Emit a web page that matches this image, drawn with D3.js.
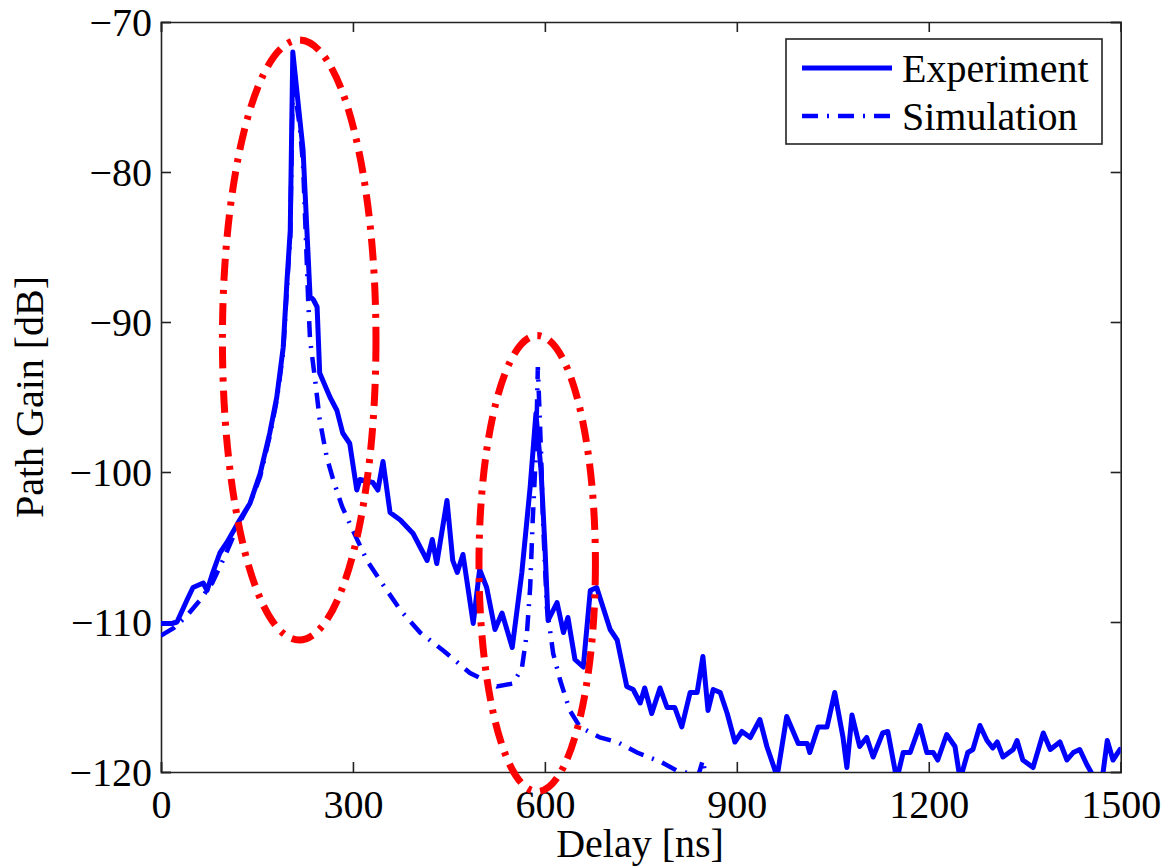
<!DOCTYPE html>
<html>
<head>
<meta charset="utf-8">
<script src="https://cdn.jsdelivr.net/npm/d3@7"></script>
<style>
  html, body { margin: 0; padding: 0; background: #fff; }
  svg { display: block; }
  text { font-family: "Liberation Serif", "Times New Roman", serif; fill: #000; }
</style>
</head>
<body>
<svg id="chart" width="1168" height="867"></svg>
<script>
// Axis ticks
const delayTicks = [0, 300, 600, 900, 1200, 1500];
const gainTicks = [-70, -80, -90, -100, -110, -120];

// Measured power delay profile
const expDelay = [0, 9, 17, 25, 41, 50, 66, 72, 81, 92, 103, 123, 139, 155, 170, 181, 191, 197, 202, 206,
  217, 222, 233, 238, 244, 248, 264, 275, 284, 295, 306, 311, 331, 339, 347, 358, 374, 394, 416, 424,
  431, 447, 456, 463, 472, 488, 498, 509, 522, 533, 549, 564, 577, 586, 594, 600, 605, 619, 629, 636,
  647, 660, 671, 681, 702, 713, 728, 738, 749, 756, 767, 780, 791, 803, 814, 827, 838, 847, 855, 863,
  874, 885, 897, 908, 921, 936, 947, 963, 978, 996, 1010, 1014, 1027, 1041, 1053, 1066, 1072, 1080, 1092, 1103,
  1113, 1128, 1136, 1150, 1160, 1171, 1186, 1197, 1207, 1214, 1228, 1241, 1249, 1261, 1269, 1280, 1291, 1300, 1307, 1316,
  1332, 1338, 1347, 1363, 1379, 1390, 1405, 1416, 1426, 1436, 1447, 1460, 1471, 1479, 1488, 1499];
const expGain = [-110.1, -110.1, -110.1, -110.0, -108.5, -107.7, -107.4, -107.9, -106.7, -105.4, -104.7, -103.2, -102.1, -100.1, -97.4, -95.0, -91.7, -87.2, -83.9, -72.0,
  -76.5, -78.5, -88.3, -88.5, -89.0, -93.4, -95.0, -95.9, -97.4, -98.1, -101.2, -100.5, -100.7, -101.2, -99.3, -102.7, -103.2, -104.1, -105.9, -104.5,
  -106.1, -101.9, -105.9, -106.7, -105.5, -110.1, -106.5, -107.7, -110.5, -109.4, -111.7, -106.7, -101.0, -96.1, -99.9, -104.9, -109.9, -108.7, -110.7, -109.7,
  -112.5, -113.0, -107.9, -107.7, -110.5, -111.2, -114.3, -114.5, -115.4, -114.4, -116.1, -114.4, -115.7, -115.7, -117.0, -114.7, -114.7, -112.3, -115.9, -114.5,
  -114.7, -116.1, -118.0, -117.3, -117.7, -116.5, -118.3, -120.3, -116.3, -118.1, -118.1, -118.7, -117.0, -117.0, -114.7, -117.7, -119.7, -116.2, -118.3, -117.7,
  -119.0, -117.4, -117.3, -120.5, -118.7, -118.7, -116.9, -118.7, -118.7, -119.2, -117.5, -118.3, -120.5, -118.7, -118.5, -116.9, -117.9, -118.4, -118.0, -119.0,
  -118.5, -117.9, -119.2, -119.7, -117.4, -118.5, -118.0, -119.2, -118.7, -118.5, -119.5, -120.5, -120.5, -117.9, -119.2, -118.5];

// Simulated power delay profile
const simDelay = [0, 20, 40, 60, 80, 100, 120, 140, 155, 170, 181, 191, 197, 202, 206, 212, 217, 222, 227, 230,
  233, 241, 248, 259, 269, 283, 300, 322, 342, 374, 405, 441, 483, 525, 550, 564, 572, 577, 581, 586,
  589, 594, 597, 603, 613, 624, 639, 655, 686, 713, 744, 780, 806, 827, 840, 847, 852, 860];
const simGain = [-110.9, -110.4, -109.6, -108.6, -107.4, -105.6, -103.6, -102.0, -100.3, -97.6, -95.2, -92.0, -87.6, -84.3, -74.0, -75.5, -77.0, -79.5, -85.0, -88.5,
  -91.2, -93.9, -96.5, -99.0, -100.5, -102.3, -103.9, -105.9, -107.2, -109.2, -110.7, -111.9, -113.4, -114.3, -114.1, -113.1, -110.7, -107.7, -103.2, -98.7,
  -93.0, -98.7, -103.2, -109.0, -112.1, -113.9, -115.9, -117.0, -117.7, -118.0, -118.7, -119.3, -119.9, -120.1, -120.2, -119.2, -120.5, -121.0];

// Highlighted clusters (centre delay/gain and half extents)
const clusterDelay = [216, 588];
const clusterGain = [-91.2, -106.1];
const clusterHalfDelay = [120, 91];
const clusterHalfGain = [20, 15.2];

const seriesNames = ["Experiment", "Simulation"];

const svg = d3.select("#chart");
const margin = { left: 161, top: 22, right: 1168 - 1120.7, bottom: 867 - 772 };
const W = 1168 - margin.left - margin.right;
const H = 867 - margin.top - margin.bottom;

const x = d3.scaleLinear().domain([0, 1500]).range([0, W]);
const y = d3.scaleLinear().domain([-120, -70]).range([H, 0]);

const g = svg.append("g").attr("transform", `translate(${margin.left},${margin.top})`);

g.append("defs").append("clipPath").attr("id", "plotClip")
  .append("rect").attr("x", 0).attr("y", 0).attr("width", W).attr("height", H);

const fmt = d => d < 0 ? "\u2212" + Math.abs(d) : String(d);
const FONT = 40;

// Axes with inward ticks on all four sides
const xb = g.append("g").attr("transform", `translate(0,${H})`)
  .call(d3.axisBottom(x).tickValues(delayTicks).tickSize(-10).tickPadding(18).tickFormat(fmt));
const xt = g.append("g")
  .call(d3.axisTop(x).tickValues(delayTicks).tickSize(-10).tickFormat(""));
const yl = g.append("g")
  .call(d3.axisLeft(y).tickValues(gainTicks).tickSize(-10).tickPadding(9).tickFormat(fmt));
const yr = g.append("g").attr("transform", `translate(${W},0)`)
  .call(d3.axisRight(y).tickValues(gainTicks).tickSize(-10).tickFormat(""));

[xb, xt, yl, yr].forEach(a => {
  a.selectAll(".domain").attr("stroke", "#222").attr("stroke-width", 1.6);
  a.selectAll(".tick line").attr("stroke", "#222").attr("stroke-width", 1.6);
  a.selectAll("text").attr("font-family", "Liberation Serif").attr("font-size", FONT).attr("fill", "#000");
});
yl.selectAll("text").attr("dy", "0.33em");

// Data lines
const expData = expDelay.map((d, i) => [d, expGain[i]]);
const simData = simDelay.map((d, i) => [d, simGain[i]]);
const line = d3.line().x(d => x(d[0])).y(d => y(d[1]));

const plot = g.append("g").attr("clip-path", "url(#plotClip)");
plot.append("path").datum(simData)
  .attr("d", line).attr("fill", "none").attr("stroke", "#0000ff")
  .attr("stroke-width", 4.5).attr("stroke-dasharray", "16,9,2,9");
plot.append("path").datum(expData)
  .attr("d", line).attr("fill", "none").attr("stroke", "#0000ff")
  .attr("stroke-width", 5).attr("stroke-linejoin", "round").attr("stroke-linecap", "round");

// Cluster rings
g.selectAll("ellipse.cluster").data(clusterDelay).enter().append("ellipse")
  .attr("class", "cluster")
  .attr("cx", d => x(d))
  .attr("cy", (d, i) => y(clusterGain[i]))
  .attr("rx", (d, i) => x(d + clusterHalfDelay[i]) - x(d))
  .attr("ry", (d, i) => y(clusterGain[i] - clusterHalfGain[i]) - y(clusterGain[i]))
  .attr("fill", "none").attr("stroke", "#ff0000").attr("stroke-width", 7)
  .attr("stroke-dasharray", "22,9,4,9");

// Axis titles
svg.append("text").attr("x", 640).attr("y", 857).attr("text-anchor", "middle")
  .attr("font-size", FONT).text("Delay [ns]");
svg.append("text").attr("transform", "translate(43,397) rotate(-90)").attr("text-anchor", "middle")
  .attr("font-size", FONT).text("Path Gain [dB]");

// Legend
const leg = svg.append("g");
leg.append("rect").attr("x", 786).attr("y", 39).attr("width", 316).attr("height", 105)
  .attr("fill", "#fff").attr("stroke", "#222").attr("stroke-width", 1.6);
const legY = [68, 116];
const legDash = [null, "16,9,2,9"];
seriesNames.forEach((name, i) => {
  const ln = leg.append("line").attr("x1", 802).attr("x2", 892).attr("y1", legY[i]).attr("y2", legY[i])
    .attr("stroke", "#0000ff").attr("stroke-width", i === 0 ? 5 : 4.5);
  if (legDash[i]) ln.attr("stroke-dasharray", legDash[i]);
  leg.append("text").attr("x", 902).attr("y", legY[i] + 14).attr("font-size", FONT).text(name);
});
</script>
</body>
</html>
